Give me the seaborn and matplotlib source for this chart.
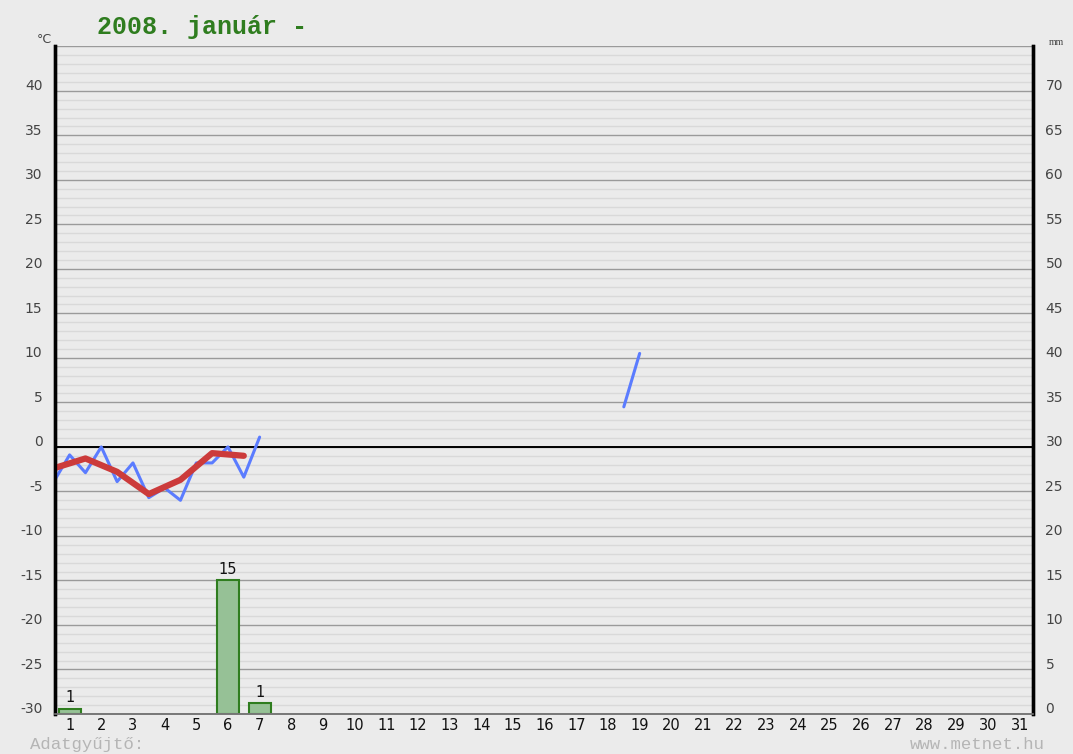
import numpy as np
import pandas as pd
import matplotlib.pyplot as plt
import matplotlib.transforms as mtransforms
import seaborn as sns

# half-day temperature readings (°C)
blue_days = [0.5, 1, 1.5, 2, 2.5, 3, 3.5, 4, 4.5, 5, 5.5, 6, 6.5, 7]
blue_temp = [-3.9, -0.9, -2.9, 0.0, -3.9, -1.8, -5.7, -4.6, -6.0, -1.8, -1.8, 0.0, -3.4, 1.1]
blue2_days = [18.5, 19]
blue2_temp = [4.5, 10.5]

# daily mean temperature (°C)
red_days = [0.5, 1.5, 2.5, 3.5, 4.5, 5.5, 6.5]
red_temp = [-2.4, -1.3, -2.8, -5.3, -3.7, -0.7, -1.0]

# precipitation (mm)
rain_days = [1, 6, 7]
rain_mm = [0.6, 15.0, 1.2]

days = list(range(1, 32))
temp_ticks = list(range(-30, 45, 5))
mm_ticks = list(range(0, 75, 5))

bg = "#ebebeb"
sns.set_style("white")
plt.rcParams['font.family'] = ['DejaVu Sans']

fig = plt.figure(figsize=(10.73, 7.54), dpi=100, facecolor=bg)
ax = fig.add_axes([0.0513, 0.0531, 0.9114, 0.8855])
ax.set_facecolor(bg)
ax2 = ax.twinx()
ax2.set_facecolor(bg)

# grid, drawn on the mm axis (mm = °C + 30) so it stays behind the bars
for t in np.arange(-30, 46, 1):
    c = "#9a9a9a" if t % 5 == 0 else "#d9d9d9"
    ax2.axhline(t + 30, color=c, lw=1.0, zorder=0)

# precipitation bars on the right axis
rain = pd.DataFrame({"day": rain_days, "mm": rain_mm})
sns.barplot(data=rain, x="day", y="mm", native_scale=True, width=0.7,
            color="#96c196", edgecolor="#2f7d1f", linewidth=1.5,
            saturation=1, ax=ax2, zorder=2)
for d, v in zip(rain_days, rain_mm):
    ax2.text(d, v + 0.4, f"{v:.0f}", ha="center", va="bottom",
             fontsize=10.5, color="#111", zorder=3)
ax2.set_ylim(0, 75)

# temperature lines on the °C axis, placed above the bar axis
ax.set_zorder(ax2.get_zorder() + 1)
ax.patch.set_visible(False)
ax.axhline(0, color="black", lw=1.4, zorder=1)
sns.lineplot(x=blue_days, y=blue_temp, color="#5b7cff", lw=2.2, ax=ax)
sns.lineplot(x=blue2_days, y=blue2_temp, color="#5b7cff", lw=2.2, ax=ax)
sns.lineplot(x=red_days, y=red_temp, color="#cc3b3b", lw=4.5, ax=ax)

ax.set_xlim(0.54, 31.42)
ax.set_ylim(-30, 45)
ax2.set_xlim(0.54, 31.42)

ax.set_xticks(days)
ax.set_xticklabels([str(d) for d in days], fontsize=10.5, color="#111")
ax.set_yticks(temp_ticks)
ax.set_yticklabels([str(t) for t in temp_ticks], fontsize=10, color="#444")
ax2.set_yticks(mm_ticks)
ax2.set_yticklabels([str(m) for m in mm_ticks], fontsize=10, color="#444")
ax.tick_params(axis="x", length=0, pad=3)
ax.tick_params(axis="y", length=0, pad=9)
ax2.tick_params(axis="y", length=0, pad=9)
ax2.tick_params(axis="x", length=0, labelbottom=False)
ax.set_xlabel("")
ax.set_ylabel("")
ax2.set_xlabel("")
ax2.set_ylabel("")

# tick labels sit slightly above their grid lines
shift = mtransforms.ScaledTranslation(0, 6 / 100, fig.dpi_scale_trans)
for lab in ax.get_yticklabels() + ax2.get_yticklabels():
    lab.set_transform(lab.get_transform() + shift)

for a in (ax, ax2):
    for s in ("left", "right"):
        a.spines[s].set_color("black")
        a.spines[s].set_linewidth(2.4)
    a.spines["top"].set_visible(False)
    a.spines["bottom"].set_color("#777")
    a.spines["bottom"].set_linewidth(1.2)

fig.text(0.0904, 0.964, "2008. január -", fontsize=18, fontweight="bold",
         family="Liberation Mono", color="#2f7d1f", va="center")
fig.text(0.034, 0.947, "°C", fontsize=9, color="#444", va="center")
fig.text(0.977, 0.944, "mm", fontsize=7, color="#444", va="center",
         family="Liberation Serif")
fig.text(0.028, 0.013, "Adatgyűjtő:", fontsize=12.5, color="#b5b5b5",
         family="Liberation Mono", va="center")
fig.text(0.974, 0.013, "www.metnet.hu", fontsize=12.5, color="#b5b5b5",
         family="Liberation Mono", va="center", ha="right")

fig.savefig("out.png", dpi=100, facecolor=bg)
